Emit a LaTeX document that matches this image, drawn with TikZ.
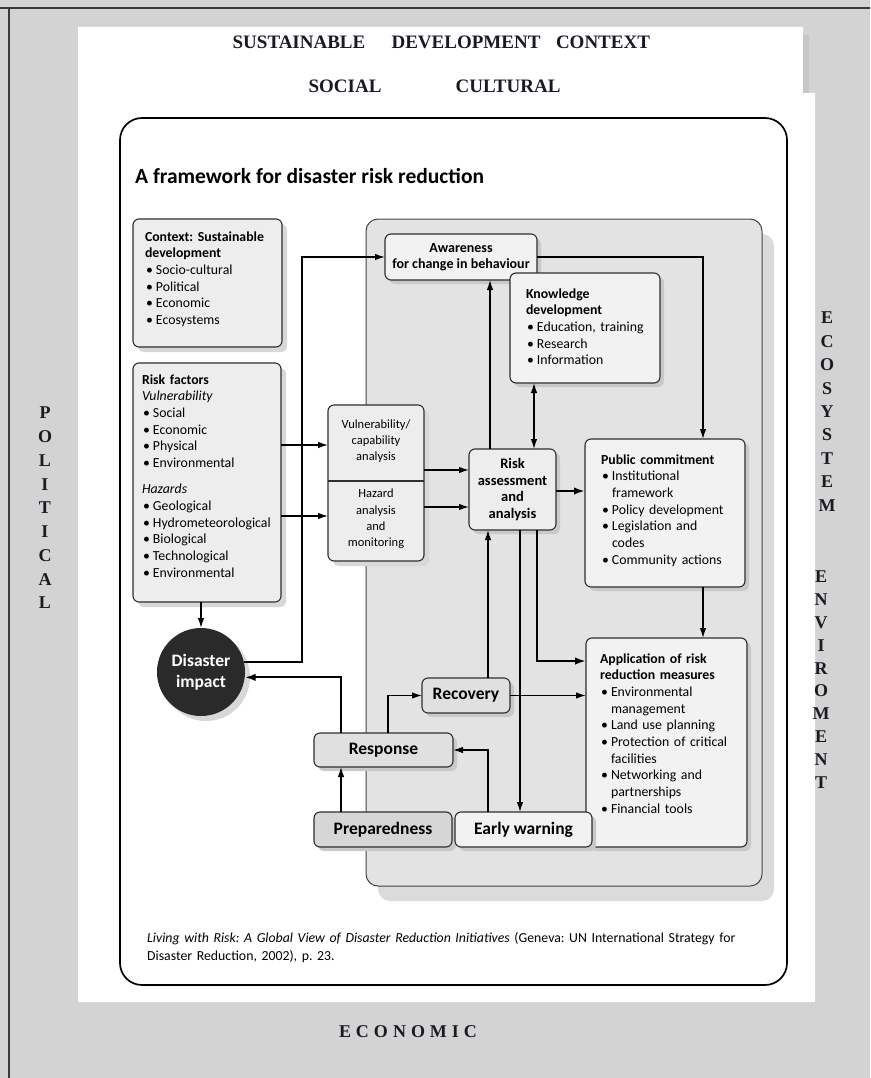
\documentclass[tikz,border=0pt]{standalone}
\usepackage{fontspec}
\setmainfont{Carlito}
\newfontfamily\hdrfont{Liberation Serif}
\usetikzlibrary{arrows.meta,shadows}
\frenchspacing
\definecolor{bggray}{HTML}{D3D3D3}
\definecolor{bargray}{HTML}{C6C6C6}
\definecolor{frameline}{HTML}{3A3A3A}
\definecolor{boxline}{HTML}{2E2E2E}
\definecolor{boxfill}{HTML}{EDEDED}
\definecolor{boxlight}{HTML}{F2F2F2}
\definecolor{boxmid}{HTML}{E0E0E0}
\definecolor{boxdark}{HTML}{D6D6D6}
\definecolor{panelfill}{HTML}{E3E3E3}
\definecolor{panelline}{HTML}{454545}
\definecolor{panelshadow}{HTML}{DBDBDB}
\definecolor{shadowin}{HTML}{C9C9C9}
\definecolor{shadowout}{HTML}{D8D8D8}
\definecolor{impact}{HTML}{2A2A2A}
\definecolor{hdrtext}{HTML}{1A1A24}
\newcommand\bxfont{\fontsize{13.8}{16.7}\selectfont}
\newcommand\bl{\makebox[11pt][l]{\hspace{1pt}•}}
\newcommand\ind{\hspace*{11pt}}
\begin{document}
\frenchspacing
\begin{tikzpicture}[x=1pt,y=-1pt,
  box/.style={draw=boxline, line width=1.1pt, rounded corners=6pt, inner sep=0pt, outer sep=0pt, fill=boxfill},
  shin/.style={general shadow={fill=shadowin, shadow xshift=4pt, shadow yshift=-4pt}},
  shout/.style={general shadow={fill=shadowout, shadow xshift=5pt, shadow yshift=-5pt}},
  txt/.style={inner sep=0pt, outer sep=0pt, align=left, font=\bxfont, text width=#1},
  ctr/.style={inner sep=0pt, align=center, font=\fontsize{12.5}{16.3}\selectfont},
  stage/.style={box, font=\bfseries\fontsize{17.5}{19}\selectfont},
  arr/.style={-{Latex[length=10pt,width=6.5pt]}, line width=1.3pt},
  arrboth/.style={{Latex[length=10pt,width=6.5pt]}-{Latex[length=10pt,width=6.5pt]}, line width=1.3pt},
  arrT/.style={-{Latex[length=11pt,width=7.5pt]}, line width=2.2pt},
  hdr/.style={font=\hdrfont\bfseries\fontsize{19}{22}\selectfont, text=hdrtext, inner sep=0pt},
  side/.style={font=\hdrfont\bfseries\fontsize{18}{20}\selectfont, text=hdrtext, inner sep=0pt},
]
\useasboundingbox (0,0) rectangle (870,1078);
\fill[bggray] (0,0) rectangle (870,1078);
\draw[frameline, line width=2pt] (0,8) -- (870,8);
\draw[frameline, line width=2pt] (9,8) -- (9,1078);
\fill[white] (78,27) -- (803,27) -- (803,93) -- (815,93) -- (815,1002) -- (78,1002) -- cycle;
\fill[bargray] (803,35) rectangle (809,93);

% header
\node[hdr] (h1) at (299,42) {SUSTAINABLE};
\node[hdr] (h2) at (466,42) {DEVELOPMENT};
\node[hdr] (h3) at (603,42) {CONTEXT};
\node[hdr] (h4) at (345,86) {SOCIAL};
\node[hdr] (h5) at (508,86) {CULTURAL};

% side words
\foreach \c [count=\i from 0] in {P,O,L,I,T,I,C,A,L}
  \node[side] (pol\i) at (45,413+23.75*\i) {\c};
\foreach \c [count=\i from 0] in {E,C,O,S,Y,S,T,E,M}
  \node[side] (ecs\i) at (827,318+23.4*\i) {\c};
\foreach \c [count=\i from 0] in {E,N,V,I,R,O,M,E,N,T}
  \node[side] (env\i) at (821,577+22.8*\i) {\c};
\node[side] (eco) at (408,1032) {E\hspace{5pt}C\hspace{5pt}O\hspace{5pt}N\hspace{5pt}O\hspace{5pt}M\hspace{5pt}I\hspace{5pt}C};

% frame
\draw[line width=1.7pt, rounded corners=22pt, fill=white] (120,118) rectangle (787,985);
\node[anchor=base west, inner sep=0pt, font=\bfseries\fontsize{21.5}{24}\selectfont] (title) at (135,184) {A framework for disaster risk reduction};

% panel
\node[draw=panelline, line width=1pt, fill=panelfill, rounded corners=12pt, minimum width=396pt, minimum height=667pt, inner sep=0pt,
  general shadow={fill=panelshadow, shadow xshift=12pt, shadow yshift=-15pt}] (panel) at (564,552.5) {};

% left boxes
\node[box, shout, minimum width=149pt, minimum height=128pt] (ctx) at (207.5,283) {};
\node[txt=145pt, anchor=base west] (ctxT) at (145,241) {\textbf{Context: Sustainable}\\\textbf{development}\\\bl Socio-cultural\\\bl Political\\\bl Economic\\\bl Ecosystems};

\node[box, shout, minimum width=148pt, minimum height=239pt] (rf) at (207,482.5) {};
\node[txt=145pt, anchor=base west] (rfT) at (142,384) {\textbf{Risk factors}\\\textit{Vulnerability}\\\bl Social\\\bl Economic\\\bl Physical\\\bl Environmental\\[9.5pt]\textit{Hazards}\\\bl Geological\\\bl Hydrometeorological\\\bl Biological\\\bl Technological\\\bl Environmental};

\node[circle, fill=impact, minimum size=88pt, inner sep=0pt, outer sep=0pt,
  general shadow={fill=shadowout, shadow xshift=5pt, shadow yshift=-5pt},
  text=white, align=center, font=\bfseries\fontsize{17.5}{21}\selectfont] (di) at (201,672) {Disaster\\impact};

% analysis boxes
\node[box, shout, minimum width=96pt, minimum height=156pt] (vchz) at (376,483) {};
\node[ctr, outer sep=0pt, minimum width=96pt, minimum height=76pt] (vc) at (376,441) {Vulnerability/\\capability\\analysis};
\node[ctr, outer sep=0pt, minimum width=96pt, minimum height=80pt] (hz) at (376,519) {Hazard\\analysis\\and\\monitoring};
\draw[boxline, line width=1.1pt] (328,481) -- (424,481);

\node[box, shin, fill=boxlight, minimum width=152pt, minimum height=46pt, ctr, font=\bfseries\fontsize{14}{16.5}\selectfont] (aw) at (461,257) {Awareness\\for change in behaviour};

\node[box, shin, fill=boxlight, minimum width=150pt, minimum height=110pt] (kd) at (585,328) {};
\node[txt=135pt, anchor=base west] (kdT) at (526,298) {\textbf{Knowledge}\\\textbf{development}\\\bl Education, training\\\bl Research\\\bl Information};

\node[box, shin, minimum width=87pt, minimum height=81pt, ctr, font=\bfseries\fontsize{14.5}{16.6}\selectfont] (ra) at (512.5,489.5) {Risk\\assessment\\and\\analysis};

\node[box, shin, fill=boxlight, minimum width=160pt, minimum height=148pt] (pc) at (665,513) {};
\node[txt=145pt, anchor=base west] (pcT) at (601,464) {\textbf{Public commitment}\\\bl Institutional\\\ind framework\\\bl Policy development\\\bl Legislation and\\\ind codes\\\bl Community actions};

\node[box, shin, fill=boxlight, minimum width=161pt, minimum height=209pt] (ap) at (666.5,742.5) {};
\node[txt=150pt, anchor=base west] (apT) at (600,663) {\textbf{Application of risk}\\\textbf{reduction measures}\\\bl Environmental\\\ind management\\\bl Land use planning\\\bl Protection of critical\\\ind facilities\\\bl Networking and\\\ind partnerships\\\bl Financial tools};

\node[stage, shin, fill=boxmid, minimum width=88pt, minimum height=35pt] (rec) at (466,695.5) {Recovery};
\node[stage, shin, fill=boxmid, minimum width=139pt, minimum height=34pt] (resp) at (383.5,750) {Response};
\node[stage, shin, fill=boxdark, minimum width=138pt, minimum height=35pt] (prep) at (383,829.5) {Preparedness};
\node[stage, shin, fill=boxlight, minimum width=137pt, minimum height=35pt] (ew) at (523.5,829.5) {Early warning};

% connectors
\draw[arr] (rf.south -| di.north) -- (di.north);
\draw[arr] (rf.east |- 0,445) -- (vc.west |- 0,445);
\draw[arr] (rf.east |- 0,516) -- (hz.west |- 0,516);
\draw[arr] (di.13) -- (302,0 |- di.13) -- (302,0 |- aw.west) -- (aw.west);
\draw[arr] (aw.east) -| (703,0 |- pc.north);
\draw[arr] (ra.north -| 490,0) -- (aw.south -| 490,0);
\draw[arrboth] (kd.south -| 534,0) -- (ra.north -| 534,0);
\draw[arr] (vc.east |- 0,470) -- (ra.west |- 0,470);
\draw[arr] (hz.east |- 0,507) -- (ra.west |- 0,507);
\draw[arrT] (ra.east |- 0,491) -- (pc.west |- 0,491);
\draw[arr] (pc.south -| 703,0) -- (ap.north -| 703,0);
\draw[arrT] (ra.south -| 537,0) |- (ap.west |- 0,661);
\draw[arr] (ra.south -| 520,0) -- (ew.north -| 520,0);
\draw[arr] (rec.north -| 488,0) -- (ra.south -| 488,0);
\draw[arr] (rec.east) -- (ap.west |- rec.east);
\draw[arrT] (resp.north -| 341,0) |- (di.-7);
\draw[arr] (resp.north -| 388,0) |- (rec.west);
\draw[arr] (prep.north -| 341,0) -- (resp.south -| 341,0);
\draw[arr] (ew.north -| 488,0) |- (resp.east);

% source
\node[anchor=base west, inner sep=0pt, align=left, text width=640pt, font=\fontsize{13.8}{18}\selectfont] (src) at (147,942) {\textit{Living with Risk: A Global View of Disaster Reduction Initiatives} (Geneva: UN International Strategy for\\Disaster Reduction, 2002), p.~23.};
\end{tikzpicture}
\end{document}
